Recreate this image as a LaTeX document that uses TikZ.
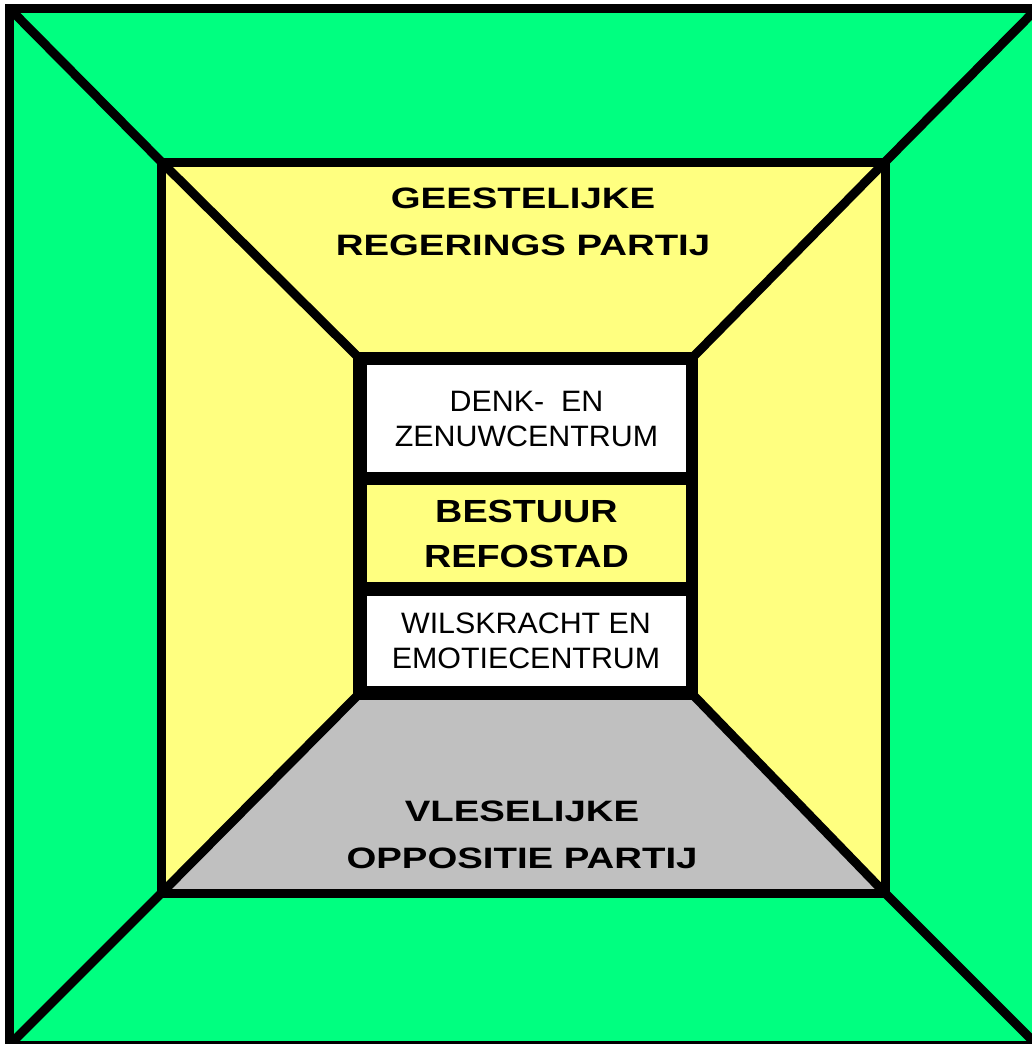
\documentclass[tikz,border=0pt]{standalone}
\usepackage{fontspec}
\usetikzlibrary{calc}
\setmainfont{Liberation Sans}
\newfontfamily\partyfont[FakeStretch=1.3]{Liberation Sans}
\newfontfamily\boardfont[FakeStretch=1.18]{Liberation Sans}
\newfontfamily\centrefont[FakeStretch=1.03]{Liberation Sans}
\definecolor{roomgreen}{RGB}{0,255,128}
\definecolor{roomyellow}{RGB}{255,255,128}
\definecolor{roomgray}{RGB}{192,192,192}
\begin{document}
\begin{tikzpicture}[x=1pt, y=-1pt,
  wall/.style={line width=9pt, line join=miter},
  party/.style={inner sep=0pt, anchor=north, align=center,
    font=\partyfont\bfseries\fontsize{29.5}{47}\selectfont},
  centrebox/.style={fill=white, inner sep=0pt, minimum width=319pt, align=center,
    font=\centrefont\fontsize{29.5}{35}\selectfont}]
\useasboundingbox (0,0) rectangle (1032,1044);
\clip (0,0) rectangle (1032,1044);
% corners of the three squares
\coordinate (o1) at (9.5,8.5);   \coordinate (o2) at (1037,8.5);
\coordinate (o3) at (1037,1045); \coordinate (o4) at (9.5,1045);
\coordinate (m1) at (161.5,162); \coordinate (m2) at (885,162);
\coordinate (m3) at (885,893);   \coordinate (m4) at (161.5,893);
\coordinate (i1) at (353,352);   \coordinate (i2) at (698,352);
\coordinate (i3) at (698,700);   \coordinate (i4) at (353,700);
\filldraw[wall, fill=roomgreen] (o1) rectangle (o3);
\fill[roomyellow] (m1) rectangle (m3);
\fill[roomgray] (m4) -- (i4) -- (i3) -- (m3) -- cycle;
\foreach \c in {1,...,4}
  \draw[wall] (o\c) -- (m\c) -- ($(m\c)!1.08!(i\c)$);
\draw[wall] (m1) rectangle (m3);
\fill (i1) rectangle (i3);
% inner boxes
\node[centrebox, minimum height=107pt] (thinking) at (526.5,418.5) {DENK-\ \ EN\\ZENUWCENTRUM};
\node[fill=roomyellow, inner sep=0pt, minimum width=319pt, minimum height=97pt, align=center,
  font=\boardfont\bfseries\fontsize{32}{45}\selectfont] (board) at (526.5,533.5) {BESTUUR\\REFOSTAD};
\node[centrebox, minimum height=90pt] (willpower) at (526,641) {WILSKRACHT EN\\EMOTIECENTRUM};
% party labels
\node[party] (spirit) at (523,188) {GEESTELIJKE\\REGERINGS PARTIJ};
\node[party] (flesh) at (522,801) {VLESELIJKE\\OPPOSITIE PARTIJ};
\end{tikzpicture}
\end{document}
